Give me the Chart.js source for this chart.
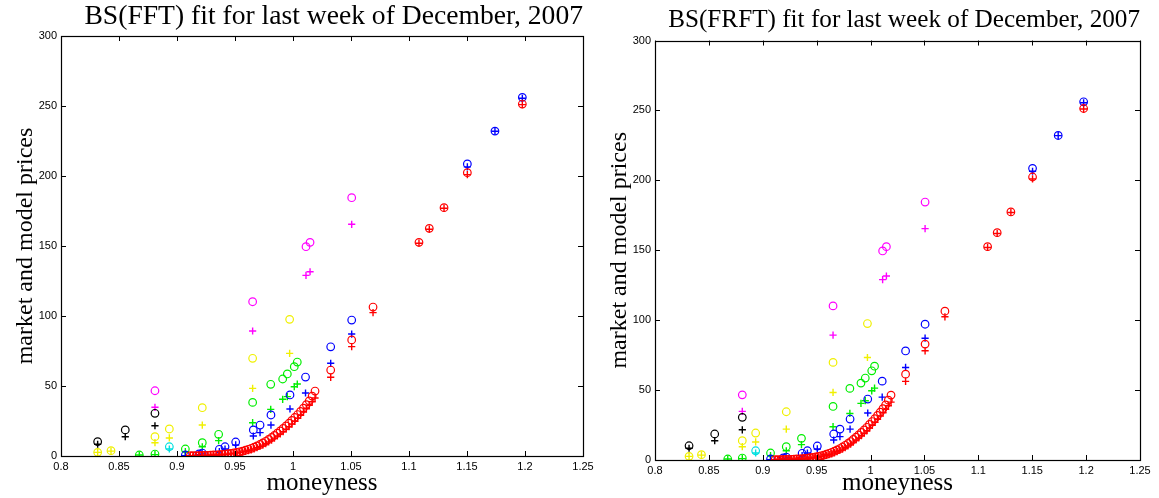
<!DOCTYPE html>
<html>
<head>
<meta charset="utf-8">
<script src="https://cdn.jsdelivr.net/npm/chart.js@4.4.1/dist/chart.umd.min.js"></script>
<style>
  html, body { margin: 0; padding: 0; background: #fff; }
  body { width: 1159px; height: 498px; position: relative; overflow: hidden; }
  canvas { position: absolute; top: 0; }
  #fft { left: 0; }
  #frft { left: 590px; }
</style>
</head>
<body>
<canvas id="fft" width="600" height="498"></canvas>
<canvas id="frft" width="569" height="498"></canvas>
<script>
// axis ticks
const xTicks = [0.8, 0.85, 0.9, 0.95, 1, 1.05, 1.1, 1.15, 1.2, 1.25];
const xTickLabels = ['0.8', '0.85', '0.9', '0.95', '1', '1.05', '1.1', '1.15', '1.2', '1.25'];
const yTicks = [0, 50, 100, 150, 200, 250, 300];

// black
const blackMoney = [0.8316, 0.8554, 0.881];
const blackMarket = [10.2, 18.6, 30.5];
const blackModel = [8.4, 13.8, 21.6];

// yellow
const yellowMoney = [0.8316, 0.8431, 0.881, 0.8934, 0.9218, 0.9652, 0.9971];
const yellowMarket = [2.6, 3.8, 13.8, 19.3, 34.5, 69.8, 97.6];
const yellowModel = [2.6, 3.5, 9.5, 12.9, 22.1, 48.3, 73.3];

// cyan
const cyanMoney = [0.8934];
const cyanMarket = [6.6];
const cyanModel = [5.0];

// green
const greenMoney = [0.8675, 0.881, 0.9072, 0.9218, 0.9359, 0.9652, 0.9808, 0.9911, 0.9951, 1.0011, 1.0037];
const greenMarket = [0.7, 1.4, 5.0, 9.5, 15.5, 38.3, 51.2, 55.0, 58.6, 63.8, 67.1];
const greenModel = [0.7, 1.0, 3.1, 6.6, 11.0, 23.8, 33.3, 40.5, 42.4, 49.5, 51.4];

// blue
const blueMoney = [0.9072, 0.919, 0.9218, 0.9365, 0.9414, 0.9506, 0.9658, 0.9716, 0.981, 0.9974, 1.0108, 1.0325, 1.0506, 1.1503, 1.1741, 1.1977];
const blueMarket = [0.7, 1.5, 2.1, 4.8, 6.6, 10.0, 18.6, 22.1, 29.3, 43.6, 56.4, 78.0, 97.1, 208.6, 232.1, 256.2];
const blueModel = [0.3, 1.0, 1.5, 3.1, 5.0, 7.9, 14.3, 16.7, 22.1, 33.6, 45.0, 66.2, 87.1, 206.5, 232.0, 255.5];

// red
const redMoney = [0.9115, 0.914, 0.9165, 0.919, 0.9215, 0.924, 0.9265, 0.929, 0.9315, 0.934, 0.9365, 0.939,
  0.9415, 0.944, 0.9465, 0.949, 0.9515, 0.954, 0.9565, 0.959, 0.9615, 0.964, 0.9665, 0.969, 0.9715, 0.974,
  0.9765, 0.979, 0.9815, 0.984, 0.9865, 0.989, 0.9915, 0.994, 0.9965, 0.999, 1.0015, 1.004, 1.0065, 1.009,
  1.0115, 1.014, 1.0165, 1.019, 1.0325, 1.0506, 1.069, 1.1086, 1.1175, 1.1302, 1.1503, 1.1977];
const redMarket = [0.2, 0.2, 0.3, 0.3, 0.4, 0.4, 0.5, 0.6, 0.7, 0.8, 1.0, 1.2,
  1.4, 1.6, 1.9, 2.2, 2.6, 3.0, 3.5, 4.1, 4.8, 5.5, 6.3, 7.2, 8.2, 9.3,
  10.5, 11.8, 13.2, 14.7, 16.3, 17.9, 19.7, 21.5, 23.4, 25.4, 27.5, 29.6, 31.9, 34.2,
  36.7, 39.4, 42.8, 46.4, 61.4, 82.9, 106.4, 152.6, 162.6, 177.4, 202.4, 251.4];
const redModel = [0.2, 0.2, 0.2, 0.3, 0.3, 0.4, 0.4, 0.5, 0.6, 0.7, 0.8, 1.0,
  1.1, 1.3, 1.5, 1.8, 2.1, 2.4, 2.8, 3.3, 3.8, 4.4, 5.1, 5.9, 6.8, 7.8,
  8.9, 10.1, 11.4, 12.8, 14.3, 15.8, 17.4, 19.1, 20.9, 22.8, 24.8, 26.9, 29.1, 31.4,
  33.8, 36.3, 38.8, 41.4, 56.2, 78.1, 102.4, 152.0, 162.0, 177.0, 201.0, 251.0];

// magenta
const magentaMoney = [0.881, 0.9652, 1.0112, 1.0147, 1.0506];
const magentaMarket = [46.6, 110.2, 149.5, 152.6, 184.5];
const magentaModel = [34.8, 89.3, 129.0, 131.6, 165.5];

const groups = [
  { color: '#ff0000', money: redMoney, market: redMarket, model: redModel },
  { color: '#0000ff', money: blueMoney, market: blueMarket, model: blueModel },
  { color: '#00ee00', money: greenMoney, market: greenMarket, model: greenModel },
  { color: '#00e0e0', money: cyanMoney, market: cyanMarket, model: cyanModel },
  { color: '#f0f000', money: yellowMoney, market: yellowMarket, model: yellowModel },
  { color: '#000000', money: blackMoney, market: blackMarket, model: blackModel },
  { color: '#ff00ff', money: magentaMoney, market: magentaMarket, model: magentaModel },
];

function buildDatasets() {
  const sets = [];
  groups.forEach(g => {
    sets.push({
      data: g.money.map((m, i) => ({ x: m, y: g.market[i] })),
      pointStyle: 'circle', pointRadius: 3.8, borderWidth: 1.2,
      borderColor: g.color, backgroundColor: 'rgba(0,0,0,0)'
    });
    sets.push({
      data: g.money.map((m, i) => ({ x: m, y: g.model[i] })),
      pointStyle: 'cross', pointRadius: 3.6, borderWidth: 1.4,
      borderColor: g.color, backgroundColor: g.color
    });
  });
  return sets;
}

// matlab style box with inward ticks
const boxTicks = {
  id: 'boxTicks',
  afterDatasetsDraw(chart) {
    const { ctx, chartArea: a, scales: { x, y } } = chart;
    ctx.save();
    ctx.strokeStyle = '#000';
    ctx.lineWidth = 1;
    ctx.beginPath();
    x.ticks.forEach(t => {
      const px = Math.round(x.getPixelForValue(t.value)) + 0.5;
      ctx.moveTo(px, a.bottom); ctx.lineTo(px, a.bottom - 5);
      ctx.moveTo(px, a.top); ctx.lineTo(px, a.top + 5);
    });
    y.ticks.forEach(t => {
      const py = Math.round(y.getPixelForValue(t.value)) + 0.5;
      ctx.moveTo(a.left, py); ctx.lineTo(a.left + 5, py);
      ctx.moveTo(a.right, py); ctx.lineTo(a.right - 5, py);
    });
    ctx.stroke();
    ctx.lineWidth = 1.2;
    ctx.strokeRect(Math.round(a.left) + 0.5, Math.round(a.top) + 0.5,
      Math.round(a.right - a.left), Math.round(a.bottom - a.top));
    ctx.restore();
  }
};

function makeChart(id, p) {
  return new Chart(document.getElementById(id), {
    type: 'scatter',
    data: { datasets: buildDatasets() },
    plugins: [boxTicks],
    options: {
      responsive: false,
      animation: false,
      devicePixelRatio: 1,
      layout: { padding: { left: 0, right: p.padRight, top: 0, bottom: 0 } },
      plugins: {
        legend: { display: false },
        tooltip: { enabled: false },
        title: {
          display: true,
          text: p.title,
          align: 'end',
          color: '#000',
          font: { family: 'Liberation Serif', size: p.titleSize, weight: 'normal' },
          padding: { top: p.titleTop, bottom: p.titleBottom }
        }
      },
      scales: {
        x: {
          type: 'linear', min: 0.8, max: 1.25,
          afterBuildTicks: s => { s.ticks = xTicks.map(v => ({ value: v })); },
          afterFit: s => { s.height = p.xHeight; s.paddingLeft = 0; s.paddingRight = 0; },
          grid: { display: false, drawTicks: false },
          border: { display: false },
          ticks: {
            autoSkip: false, maxRotation: 0, padding: 4, color: '#000',
            font: { family: 'Liberation Sans', size: 11 },
            callback: (v, i) => xTickLabels[i]
          },
          title: {
            display: true, text: 'moneyness', color: '#000',
            font: { family: 'Liberation Serif', size: 25 },
            padding: { top: 0, bottom: 0 }
          }
        },
        y: {
          type: 'linear', min: 0, max: 300,
          afterBuildTicks: s => { s.ticks = yTicks.map(v => ({ value: v })); },
          afterFit: s => { s.width = p.yWidth; s.paddingTop = 0; s.paddingBottom = 0; },
          grid: { display: false, drawTicks: false },
          border: { display: false },
          ticks: {
            padding: 4, color: '#000',
            font: { family: 'Liberation Sans', size: 11 },
            callback: v => String(v)
          },
          title: {
            display: true, text: 'market and model prices', color: '#000',
            font: { family: 'Liberation Serif', size: 24 },
            padding: { top: p.yTitlePad, bottom: 0 }
          }
        }
      }
    }
  });
}

makeChart('fft', {
  title: 'BS(FFT) fit for last week of December, 2007',
  titleSize: 27.6, titleTop: 0.6, titleBottom: 2.3,
  padRight: 17, xHeight: 42, yWidth: 61, yTitlePad: 11.6
});

makeChart('frft', {
  title: 'BS(FRFT) fit for last week of December, 2007',
  titleSize: 25.2, titleTop: 5.6, titleBottom: 4.7,
  padRight: 19, xHeight: 38, yWidth: 65, yTitlePad: 15.6
});
</script>
</body>
</html>
